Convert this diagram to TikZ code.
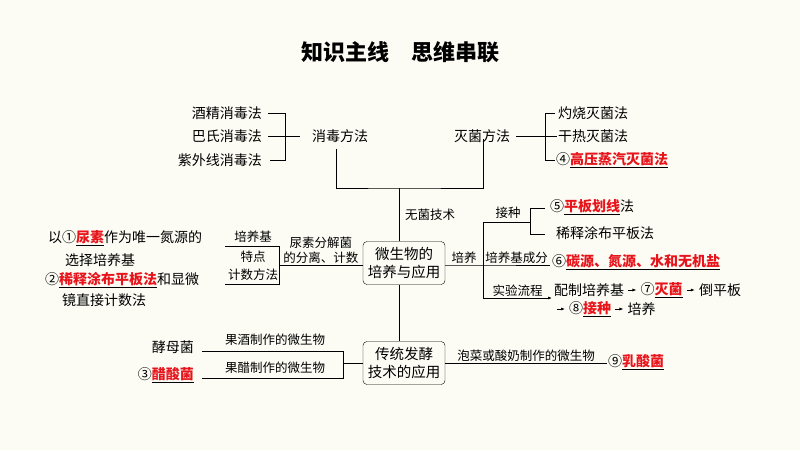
\documentclass[tikz,border=0pt]{standalone}
\usepackage{fontspec}
\setmainfont{Noto Sans CJK SC}
\usetikzlibrary{arrows.meta,positioning}
\definecolor{paper}{HTML}{FCFCF5}
\definecolor{ansred}{HTML}{E8141B}
\newcommand{\ans}[1]{\underline{\textcolor{ansred}{\bfseries #1}}}
\tikzset{
  txt/.style={inner sep=1pt,font=\fontsize{14}{17}\selectfont},
  lbl/.style={inner sep=1pt,font=\fontsize{12.5}{15}\selectfont},
  hub/.style={draw,rounded corners=4pt,inner sep=2pt,minimum width=82pt,minimum height=43pt,align=center,font=\fontsize{14.5}{18}\selectfont},
  ln/.style={line width=0.8pt},
  flowarr/.style={-{Latex[length=4pt,width=3pt]},line width=0.7pt},
  gap/.style={shorten <=3pt,shorten >=3pt}
}
\begin{document}
\begin{tikzpicture}[x=1pt,y=-1pt]
\fill[paper] (0,0) rectangle (800,450);
\useasboundingbox (0,0) rectangle (800,450);

\node[font=\fontsize{22}{26}\selectfont\bfseries] (title) at (400,52) {知识主线\quad 思维串联};

% disinfection / sterilisation
\node[txt,anchor=east] (alc) at (263,113) {酒精消毒法};
\node[txt,anchor=east] (past) at (263,136) {巴氏消毒法};
\node[txt,anchor=east] (uv) at (263,160) {紫外线消毒法};
\node[txt] (disinf) at (340,136) {消毒方法};
\node[txt] (steril) at (482,136) {灭菌方法};
\node[txt,anchor=west] (burn) at (557,113) {灼烧灭菌法};
\node[txt,anchor=west] (dry) at (557,136) {干热灭菌法};
\node[txt,anchor=west] (press) at (555,160) {④\ans{高压蒸汽灭菌法}};
\draw[ln] (alc.east) ++(5,0) -| (285,160) -- ++(-15,0);
\draw[ln] (past.east) ++(5,0) -- (300,136);
\draw[ln] (steril.east) ++(5,0) -- (545,136);
\draw[ln] (burn.west) ++(-2,0) -| (545,160) -- (press.west);
\draw[ln] (545,136) -- (dry.west);
\coordinate (join) at (399,188);
\draw[ln] (disinf.south) ++(-4,5) |- (join) -| ([xshift=1pt,yshift=5pt]steril.south);

% central hubs
\node[hub] (micro) at (404,263) {微生物的\\培养与应用};
\node[hub] (ferm) at (404,363) {传统发酵\\技术的应用};
\draw[ln] (join) -- (micro.north -| join);
\draw[ln] (micro.south -| join) -- (ferm.north -| join);
\node[lbl,anchor=west] (asep) at (404,215) {无菌技术};

% urea bacteria
\coordinate (ub) at (279,265);
\draw[ln] (micro.west |- ub) -- node[lbl,above,align=center] (urea) {尿素分解菌\\的分离、计数} (ub);
\draw[ln] (225,246) -| (279,284) -- (225,284);
\node[lbl] (medium) at (253,237) {培养基};
\node[lbl] (feat) at (253,257) {特点};
\node[lbl] (count) at (253,275) {计数方法};
\node[txt,anchor=west] (sel1) at (47,238) {以①\ans{尿素}作为唯一氮源的};
\node[txt,anchor=west] (sel2) at (64,260) {选择培养基};
\node[txt,anchor=west] (cnt1) at (44,280) {②\ans{稀释涂布平板法}和显微};
\node[txt,anchor=west] (cnt2) at (61,300) {镜直接计数法};

% culture branch
\coordinate (cb) at (483,265);
\draw[ln] (micro.east |- cb) -- node[lbl,above] (cul) {培养} (cb)
  -- node[lbl,above] (comp) {培养基成分} (550,265);
\draw[ln] (530,222) -| (483,298);
\draw[flowarr] (483,298) -- node[lbl,above] (flow) {实验流程} (552,298);
\node[lbl] (inoc) at (508,213) {接种};
\draw[ln] (545,208) -| (530,234) -- (545,234);
\node[txt,anchor=west] (streak) at (549,207) {⑤\ans{平板划线}法};
\node[txt,anchor=west] (spread) at (555,233) {稀释涂布平板法};
\node[txt,anchor=west] (nutr) at (551,262) {⑥\ans{碳源、氮源、水和无机盐}};
\node[txt,anchor=west] (prep) at (553,290) {配制培养基};
\node[txt,right=14pt of prep] (ster) {⑦\ans{灭菌}};
\node[txt,right=14pt of ster] (pour) {倒平板};
\coordinate (lead) at (554,309);
\node[txt,right=14pt of lead] (seed) {⑧\ans{接种}};
\node[txt,right=14pt of seed] (grow) {培养};
\draw[flowarr,gap] (prep) -- (ster);
\draw[flowarr,gap] (ster) -- (pour);
\draw[flowarr,gap] (lead) -- (seed);
\draw[flowarr,gap] (seed) -- (grow);

% fermentation branch
\draw[ln] (ferm.west) -- (343,363) (202,351) -| (343,378) -- (202,378);
\node[lbl] (wine) at (275,340) {果酒制作的微生物};
\node[lbl] (vin) at (275,368) {果醋制作的微生物};
\node[txt,anchor=east] (yeast) at (195,347) {酵母菌};
\node[txt,anchor=east] (acet) at (195,375) {③\ans{醋酸菌}};
\node[txt,anchor=west] (lact) at (607,362) {⑨\ans{乳酸菌}};
\draw[ln] (ferm.east) -- node[lbl,above] (pick) {泡菜或酸奶制作的微生物} (lact.west |- ferm.east);
\end{tikzpicture}
\end{document}
